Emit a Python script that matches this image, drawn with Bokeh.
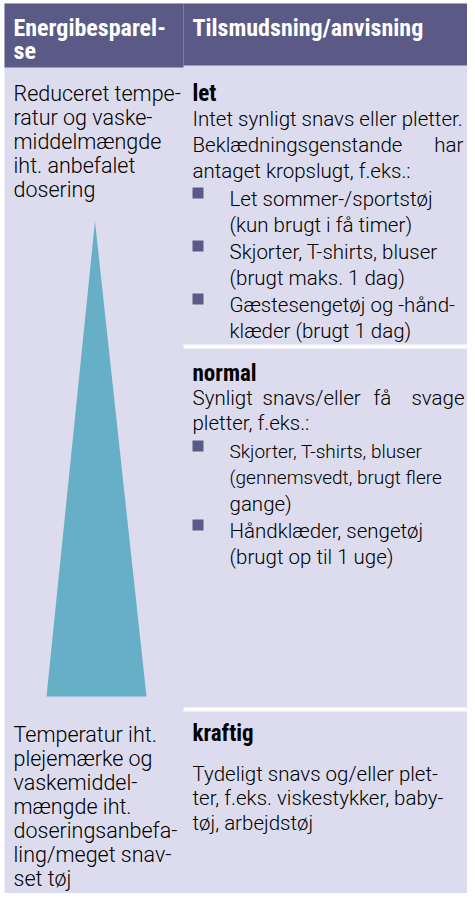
from bokeh.plotting import figure
from bokeh.models import Range1d, ColumnDataSource
from bokeh.core.properties import value
from bokeh.embed import file_html
from bokeh.resources import INLINE

# ---------------- content ----------------
header_left = ["Energibesparel-", "se"]
header_right = ["Tilsmudsning/anvisning"]

left_top = ["Reduceret tempe-", "ratur og vaske-", "middelmængde",
            "iht. anbefalet", "dosering"]
left_bottom = ["Temperatur iht.", "plejemærke og", "vaskemiddel-",
               "mængde iht.", "doseringsanbefa-", "ling/meget snav-",
               "set tøj"]

levels = ["let", "normal", "kraftig"]

let_lines = ["Intet synligt snavs eller pletter.",
             ["Beklædningsgenstande", "har"],
             "antaget kropslugt, f.eks.:"]
let_bullets = [["Let sommer-/sportstøj", "(kun brugt i få timer)"],
               ["Skjorter, T-shirts, bluser", "(brugt maks. 1 dag)"],
               ["Gæstesengetøj og -hånd-", "klæder (brugt 1 dag)"]]

normal_lines = [["Synligt", "snavs/eller", "få", "svage"],
                "pletter, f.eks.:"]
normal_bullets = [["Skjorter, T-shirts, bluser", "(gennemsvedt, brugt flere",
                   "gange)"],
                  ["Håndklæder, sengetøj", "(brugt op til 1 uge)"]]

kraftig_lines = ["Tydeligt snavs og/eller plet-",
                 "ter, f.eks. viskestykker, baby-",
                 "tøj, arbejdstøj"]

# ---------------- style / layout ----------------
W, H = 467, 893
HEAD = "#5b5a87"
BG = "#dcdcee"
TRI = "#67afc7"
INK = "#000000"
FONT = value("Roboto Light")
BFONT = value("Roboto Condensed")
FS = "20.5px"
LFS = "21.5px"

p = figure(width=W, height=H, output_backend="svg",
           toolbar_location=None, x_range=Range1d(0, W), y_range=Range1d(H, 0),
           min_border=0, background_fill_color="white",
           border_fill_color="white")
p.axis.visible = False
p.grid.visible = False
p.outline_line_color = None

# backgrounds
p.quad(left=[4], right=[W], top=[3], bottom=[H], fill_color=BG, line_color=None)
p.quad(left=[4, 183], right=[183, W], top=[3, 3], bottom=[67, 65],
       fill_color=HEAD, line_color=None)
# white separators in right column
p.quad(left=[183, 183], right=[W, W], top=[344, 707], bottom=[348, 711],
       fill_color="white", line_color=None)

# triangle
p.patch(x=[46, 94.5, 146], y=[696, 221, 696], fill_color=TRI, line_color=None)


def put(xs, ys, texts, bold=False, color=INK, align="left", size=None):
    src = ColumnDataSource(dict(x=xs, y=ys, t=texts))
    p.text(x="x", y="y", text="t", source=src,
           text_font=BFONT if bold else FONT,
           text_font_size=size or FS, text_color=color,
           text_align=align, text_baseline="alphabetic",
           text_font_style="bold" if bold else "normal")


LX, RX, BX = 13, 192, 229

# header
put([LX, LX], [27, 50], header_left, bold=True, color="white", size="24px")
put([RX], [27], header_right, bold=True, color="white", size="24px")

# left column
put([LX] * len(left_top), [93 + 24 * i for i in range(len(left_top))],
    left_top, size=LFS)
put([LX] * len(left_bottom), [734 + 24 * i for i in range(len(left_bottom))],
    left_bottom, size=LFS)

# level titles
put([RX] * 3, [93, 373, 733], levels, bold=True, size="23px")

# --- let section
let_y = [118, 144, 170]
put([RX], [let_y[0]], [let_lines[0]])
put([RX], [let_y[1]], [let_lines[1][0]])
put([463], [let_y[1]], [let_lines[1][1]], align="right")
put([RX], [let_y[2]], [let_lines[2]])
let_by = [[198, 224], [251, 277], [304, 330]]
sq_y = []
for item, ys in zip(let_bullets, let_by):
    sq_y.append(ys[0] - 5.5)
    put([BX] * len(item), ys, item)

# --- normal section
put([192, 262, 373], [397] * 3, normal_lines[0][:3])
put([464], [397], [normal_lines[0][3]], align="right")
put([RX], [422], [normal_lines[1]])
norm_by = [[451, 477, 503], [530, 556]]
for item, ys in zip(normal_bullets, norm_by):
    sq_y.append(ys[0] - 5.5)
    for t, y in zip(item, ys):
        # the squeezed (justified) line is set slightly tighter
        put([BX], [y], [t], size="19px" if len(t) > 24 else None)

# bullets
p.rect(x=[197.5] * len(sq_y), y=sq_y, width=11, height=11,
       fill_color=HEAD, line_color=None)

# --- kraftig section
put([RX] * 3, [773, 797, 822], kraftig_lines)

open("out.html", "w").write(file_html(p, INLINE))
